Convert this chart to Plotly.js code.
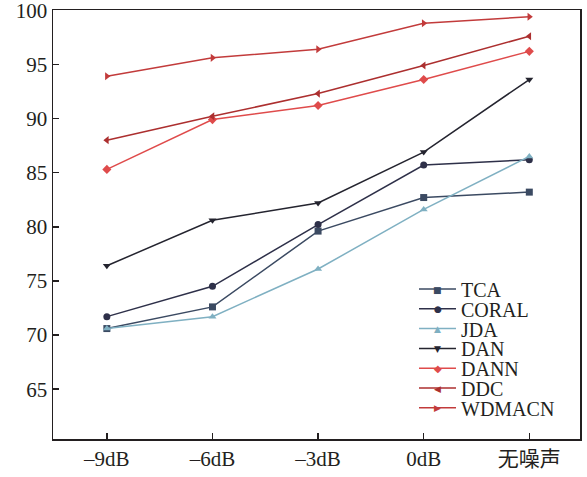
<!DOCTYPE html>
<html>
<head>
<meta charset="utf-8">
<script src="https://cdn.plot.ly/plotly-3.0.1.min.js"></script>
<style>html,body{margin:0;padding:0;background:#fff}#chart{width:587px;height:477px}</style>
</head>
<body>
<div id="chart"></div>
<script>
const categories = ["–9dB", "–6dB", "–3dB", "0dB", "无噪声"];
const TCA    = [70.6, 72.6, 79.6, 82.7, 83.2];
const CORAL  = [71.7, 74.5, 80.2, 85.7, 86.2];
const JDA    = [70.6, 71.7, 76.1, 81.6, 86.5];
const DAN    = [76.4, 80.6, 82.2, 86.9, 93.6];
const DANN   = [85.3, 89.9, 91.2, 93.6, 96.2];
const DDC    = [88.0, 90.2, 92.3, 94.9, 97.6];
const WDMACN = [93.9, 95.6, 96.4, 98.8, 99.4];

const seriesNames = ["TCA", "CORAL", "JDA", "DAN", "DANN", "DDC", "WDMACN"];
const seriesData = [TCA, CORAL, JDA, DAN, DANN, DDC, WDMACN];
const colors = ["#3b4a62", "#2e3049", "#7fb0c2", "#24242f", "#df4b4b", "#ac2f2f", "#c23b3b"];
const symbols = ["square", "circle", "triangle-up", "triangle-down", "diamond", "triangle-left", "triangle-right"];
const glyphs = ["■", "●", "▲", "▼", "◆", "◀", "▶"];
const glyphSizes = [9, 9, 9, 9, 10, 9, 9];

const serif = "Liberation Serif, Times New Roman, Noto Sans CJK SC, serif";

const traces = seriesNames.map((n, i) => ({
  x: categories,
  y: seriesData[i],
  name: n,
  type: "scatter",
  mode: "lines+markers",
  line: {color: colors[i], width: 1.5},
  marker: {symbol: symbols[i], size: 7, color: colors[i]}
}));

// Legend drawn manually (layout positions in pixels, converted to paper coords)
const W = 587, H = 477, M = {l: 53, r: 7, t: 10, b: 38};
const pw = W - M.l - M.r, ph = H - M.t - M.b;
const px = x => (x - M.l) / pw;
const py = y => (H - M.b - y) / ph;
const shapes = [], annotations = [];
seriesNames.forEach((n, i) => {
  const y = 289 + 19.8 * i;
  shapes.push({type: "line", xref: "paper", yref: "paper",
    x0: px(419), x1: px(456), y0: py(y), y1: py(y),
    line: {color: colors[i], width: 1.5}});
  annotations.push({xref: "paper", yref: "paper", x: px(437.5), y: py(y + 0.5),
    text: glyphs[i], showarrow: false, xanchor: "center", yanchor: "middle",
    borderpad: 0,
    font: {family: "DejaVu Sans", size: glyphSizes[i], color: colors[i]}});
  annotations.push({xref: "paper", yref: "paper", x: px(460), y: py(y + 1),
    text: n, showarrow: false, xanchor: "left", yanchor: "middle",
    borderpad: 0,
    font: {family: serif, size: 20, color: "#231f20"}});
});

const layout = {
  width: W, height: H,
  margin: M,
  paper_bgcolor: "#fff", plot_bgcolor: "#fff",
  font: {family: serif, color: "#231f20", size: 21},
  showlegend: false,
  shapes: shapes,
  annotations: annotations,
  xaxis: {
    type: "category",
    range: [-0.51, 4.48],
    showline: true, mirror: true, linecolor: "#231f20", linewidth: 1.5,
    ticks: "inside", ticklen: 6, tickwidth: 1.5, tickcolor: "#231f20",
    showgrid: false, zeroline: false,
    ticklabeloverflow: "allow",
    tickfont: {family: serif, size: 21, color: "#231f20"}
  },
  yaxis: {
    range: [60.4, 100.02],
    tickvals: [65, 70, 75, 80, 85, 90, 95, 100],
    showline: true, mirror: true, linecolor: "#231f20", linewidth: 1.5,
    ticks: "inside", ticklen: 6, tickwidth: 1.5, tickcolor: "#231f20",
    showgrid: false, zeroline: false,
    ticklabeloverflow: "allow",
    tickfont: {family: serif, size: 21, color: "#231f20"}
  }
};

Plotly.newPlot("chart", traces, layout, {displayModeBar: false, staticPlot: true});
</script>
</body>
</html>
